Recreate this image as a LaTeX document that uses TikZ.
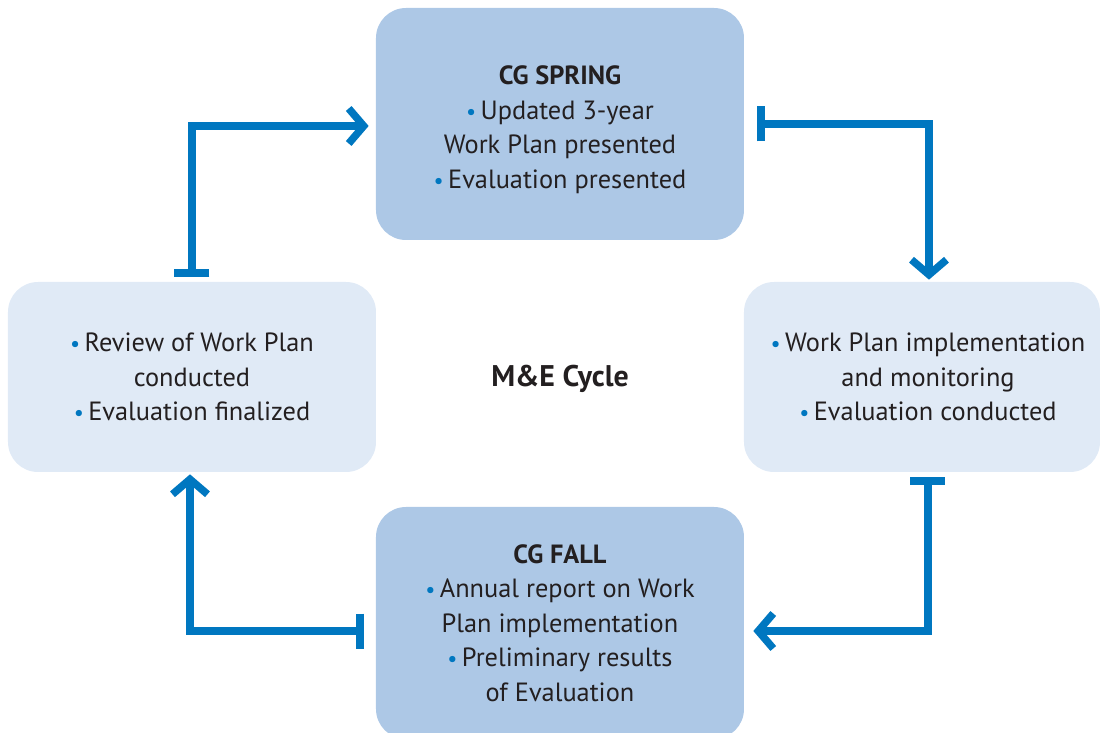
\documentclass[tikz,border=0pt]{standalone}
\usepackage{fontspec}
\setmainfont{PT Sans}
\usepackage{xcolor}
\usetikzlibrary{arrows.meta,positioning}
\definecolor{cycblue}{HTML}{0077C0}
\definecolor{dkbox}{HTML}{ADC8E6}
\definecolor{ltbox}{HTML}{E0EAF6}
\definecolor{txt}{HTML}{231F20}
\newcommand{\bul}{{\color{cycblue}\scalebox{0.85}{•}}\,}
\tikzstyle{phase} =[rounded corners=0.6cm, minimum width=7.36cm,
                    align=center, text=txt, font=\fontsize{15}{19.6}\selectfont]
\tikzstyle{flow}  =[draw=cycblue, line width=0.15cm, line join=miter,
                    {Bar[width=0.7cm]}-{Straight Barb[length=0.3cm,width=0.7cm]}]

\begin{document}
\begin{tikzpicture}[on grid, node distance = 5cm]
    \useasboundingbox (-11.2,7.52) rectangle (10.84,-7.14);
    \node (cyc) [text=txt, font=\fontsize{17}{20}\selectfont\bfseries, yshift=-0.06cm] {M\&E Cycle};
    \node (spr) [phase, fill=dkbox, minimum height=4.64cm, above=5.04cm of cyc, yshift=0.06cm]
        {\rule{0pt}{0.6cm}\textbf{CG SPRING}\\ \bul Updated 3-year\\ Work Plan presented\\ \bul Evaluation presented};
    \node (fal) [phase, fill=dkbox, minimum height=4.64cm, below=4.88cm of cyc, yshift=0cm]
        {\textbf{CG FALL}\\ \bul Annual report on Work\\ Plan implementation\\ \bul Preliminary results\\ of Evaluation};
    \node (rev) [phase, fill=ltbox, minimum height=3.8cm, left=7.36cm of cyc, yshift=0.04cm]
        {\bul Review of Work Plan\\ conducted\\ \bul Evaluation finalized};
    \node (imp) [phase, fill=ltbox, minimum height=3.8cm, minimum width=7.12cm, right=7.24cm of cyc, yshift=0.04cm]
        {\hspace*{0.24cm}\bul Work Plan implementation\\ \hspace*{0.24cm}and monitoring\\ \hspace*{0.24cm}\bul Evaluation conducted};
    \draw[flow] ([shift={(0,0.1)}]rev.north) |- ([shift={(-0.14,-0.04)}]spr.west);
    \draw[flow] ([xshift=0.26cm]spr.east) -| ([shift={(0.14,0.04)}]imp.north);
    \draw[flow] ([shift={(0.12,-0.1)}]imp.south) |- ([shift={(0.18,-0.16)}]fal.east);
    \draw[flow] ([shift={(-0.24,-0.16)}]fal.west) -| ([shift={(-0.04,-0.04)}]rev.south);
\end{tikzpicture}
\end{document}
